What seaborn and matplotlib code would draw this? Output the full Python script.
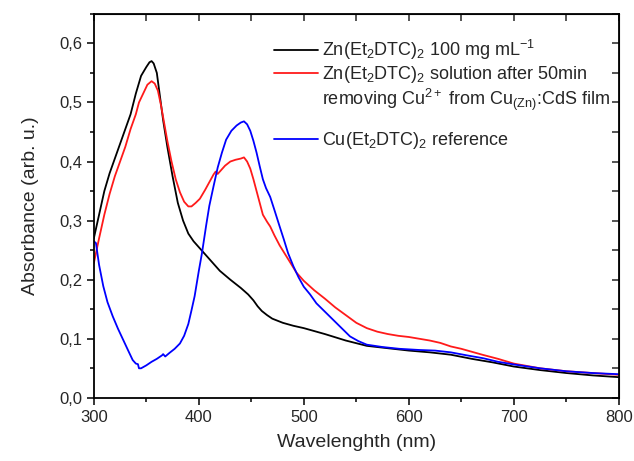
import numpy as np
import pandas as pd
import matplotlib
matplotlib.use("Agg")
import matplotlib.pyplot as plt
from matplotlib.lines import Line2D
from matplotlib.ticker import MultipleLocator, FuncFormatter
import seaborn as sns

# Zn(Et2DTC)2 100 mg/mL
wl_zn = [300, 305, 310, 315, 320, 325, 330, 335, 340, 345, 350, 353, 355, 357, 360, 363, 366,
         370, 375, 380, 385, 390, 395, 400, 410, 420, 430, 440, 447, 452, 456, 460, 465, 470,
         480, 490, 500, 520, 540, 560, 580, 600, 620, 640, 660, 680, 700, 725, 750, 775, 800]
abs_zn = [0.270, 0.310, 0.350, 0.380, 0.405, 0.430, 0.455, 0.480, 0.515, 0.545, 0.560, 0.568,
          0.570, 0.566, 0.550, 0.510, 0.470, 0.425, 0.375, 0.330, 0.300, 0.278, 0.265, 0.255,
          0.235, 0.215, 0.200, 0.186, 0.175, 0.165, 0.155, 0.147, 0.140, 0.134, 0.127, 0.122,
          0.118, 0.108, 0.097, 0.088, 0.084, 0.080, 0.077, 0.073, 0.066, 0.060, 0.053, 0.047,
          0.042, 0.038, 0.035]

# Zn(Et2DTC)2 solution after 50 min removing Cu2+
wl_sol = [300, 305, 310, 315, 320, 325, 330, 335, 340, 343, 347, 351, 355, 358, 361, 364, 367,
          370, 374, 378, 382, 386, 390, 393, 397, 401, 406, 410, 414, 416, 418, 420, 425, 430,
          435, 440, 443, 446, 449, 452, 455, 458, 461, 465, 468, 472, 477, 485, 493, 500, 510,
          520, 530, 540, 550, 560, 570, 580, 590, 600, 610, 620, 630, 640, 650, 660, 670, 685,
          700, 725, 750, 775, 800]
abs_sol = [0.228, 0.270, 0.310, 0.345, 0.375, 0.400, 0.425, 0.455, 0.480, 0.500, 0.515, 0.530,
           0.536, 0.532, 0.520, 0.495, 0.465, 0.435, 0.400, 0.370, 0.348, 0.332, 0.324, 0.324,
           0.330, 0.337, 0.352, 0.365, 0.378, 0.383, 0.379, 0.383, 0.393, 0.400, 0.403, 0.405,
           0.407, 0.400, 0.388, 0.370, 0.350, 0.330, 0.310, 0.298, 0.290, 0.275, 0.258, 0.235,
           0.212, 0.198, 0.182, 0.168, 0.153, 0.140, 0.127, 0.118, 0.112, 0.108, 0.105, 0.103,
           0.100, 0.097, 0.093, 0.087, 0.083, 0.078, 0.073, 0.066, 0.058, 0.050, 0.045, 0.042,
           0.039]

# Cu(Et2DTC)2 reference
wl_cu = [300, 302, 305, 309, 313, 318, 323, 328, 333, 337, 340, 342, 343, 345, 350, 355, 360,
         365, 366, 368, 372, 377, 382, 386, 390, 393, 396, 400, 403, 407, 410, 414, 418, 422,
         426, 431, 436, 440, 443, 446, 449, 452, 455, 458, 461, 464, 468, 472, 477, 481, 485,
         490, 495, 500, 506, 512, 520, 528, 536, 544, 552, 560, 575, 591, 610, 625, 640, 655,
         671, 685, 702, 725, 750, 775, 800]
abs_cu = [0.265, 0.262, 0.225, 0.189, 0.162, 0.138, 0.117, 0.098, 0.079, 0.064, 0.058, 0.057,
          0.050, 0.050, 0.055, 0.061, 0.066, 0.072, 0.074, 0.070, 0.076, 0.083, 0.092, 0.105,
          0.125, 0.148, 0.172, 0.215, 0.245, 0.292, 0.325, 0.358, 0.390, 0.415, 0.437, 0.452,
          0.461, 0.466, 0.468, 0.463, 0.452, 0.435, 0.415, 0.392, 0.370, 0.355, 0.340, 0.318,
          0.290, 0.268, 0.245, 0.223, 0.204, 0.188, 0.175, 0.160, 0.146, 0.132, 0.118, 0.104,
          0.096, 0.090, 0.086, 0.083, 0.081, 0.080, 0.077, 0.072, 0.067, 0.061, 0.056, 0.050,
          0.045, 0.042, 0.040]

labels = [r"Zn(Et$_2$DTC)$_2$ 100 mg mL$^{-1}$",
          r"Zn(Et$_2$DTC)$_2$ solution after 50min",
          r"removing Cu$^{2+}$ from Cu$_{(\mathrm{Zn})}$:CdS film",
          r"Cu(Et$_2$DTC)$_2$ reference"]

sns.set_style("ticks")
plt.rcParams["font.family"] = ["Liberation Sans", "DejaVu Sans"]
plt.rcParams["mathtext.fontset"] = "custom"
plt.rcParams["mathtext.rm"] = "Liberation Sans"
plt.rcParams["mathtext.it"] = "Liberation Sans"
plt.rcParams["mathtext.default"] = "regular"

fig = plt.figure(figsize=(6.34, 4.61), dpi=100)
ax = fig.add_axes([0.148, 0.137, 0.828, 0.833])

df_zn = pd.DataFrame({"wl": wl_zn, "A": abs_zn})
df_sol = pd.DataFrame({"wl": wl_sol, "A": abs_sol})
df_cu = pd.DataFrame({"wl": wl_cu, "A": abs_cu})

sns.lineplot(data=df_zn, x="wl", y="A", color="black", lw=1.3, estimator=None, ax=ax)
sns.lineplot(data=df_sol, x="wl", y="A", color="#ff1a1a", lw=1.3, estimator=None, ax=ax)
sns.lineplot(data=df_cu, x="wl", y="A", color="#0000ff", lw=1.3, estimator=None, ax=ax)

ax.set_xlim(300, 800)
ax.set_ylim(0, 0.65)
ax.xaxis.set_major_locator(MultipleLocator(100))
ax.xaxis.set_minor_locator(MultipleLocator(50))
ax.yaxis.set_major_locator(MultipleLocator(0.1))
ax.yaxis.set_minor_locator(MultipleLocator(0.05))
ax.yaxis.set_major_formatter(FuncFormatter(lambda v, p: f"{v:.1f}".replace(".", ",")))
ax.tick_params(which="major", direction="out", length=5, width=1.1, labelsize=12, color="black")
ax.tick_params(which="minor", direction="out", length=3, width=1.1, color="black")
for s in ax.spines.values():
    s.set_linewidth(1.3)
    s.set_color("black")

# mirrored inward ticks on top and right
top = ax.secondary_xaxis("top")
top.xaxis.set_major_locator(MultipleLocator(100))
top.xaxis.set_minor_locator(MultipleLocator(50))
top.tick_params(which="both", direction="in", length=5, width=1.1, labeltop=False)
right = ax.secondary_yaxis("right")
right.yaxis.set_major_locator(MultipleLocator(0.1))
right.yaxis.set_minor_locator(MultipleLocator(0.05))
right.tick_params(which="both", direction="in", length=5, width=1.1, labelright=False)

ax.set_xlabel("Wavelenghth (nm)", fontsize=14, labelpad=7)
ax.set_ylabel("Absorbance (arb. u.)", fontsize=14, labelpad=14)

lines = ax.get_lines()
leg_kw = dict(loc="upper left", frameon=False, fontsize=13, handlelength=2.4,
              handletextpad=0.25, labelspacing=0.08, borderaxespad=0)
leg1 = ax.legend([lines[0], lines[1], Line2D([], [], color="none")], labels[:3],
                 bbox_to_anchor=(0.33, 0.955), **leg_kw)
ax.add_artist(leg1)
ax.legend([lines[2]], labels[3:], bbox_to_anchor=(0.33, 0.715), **leg_kw)

fig.savefig("out.png", dpi=100)
